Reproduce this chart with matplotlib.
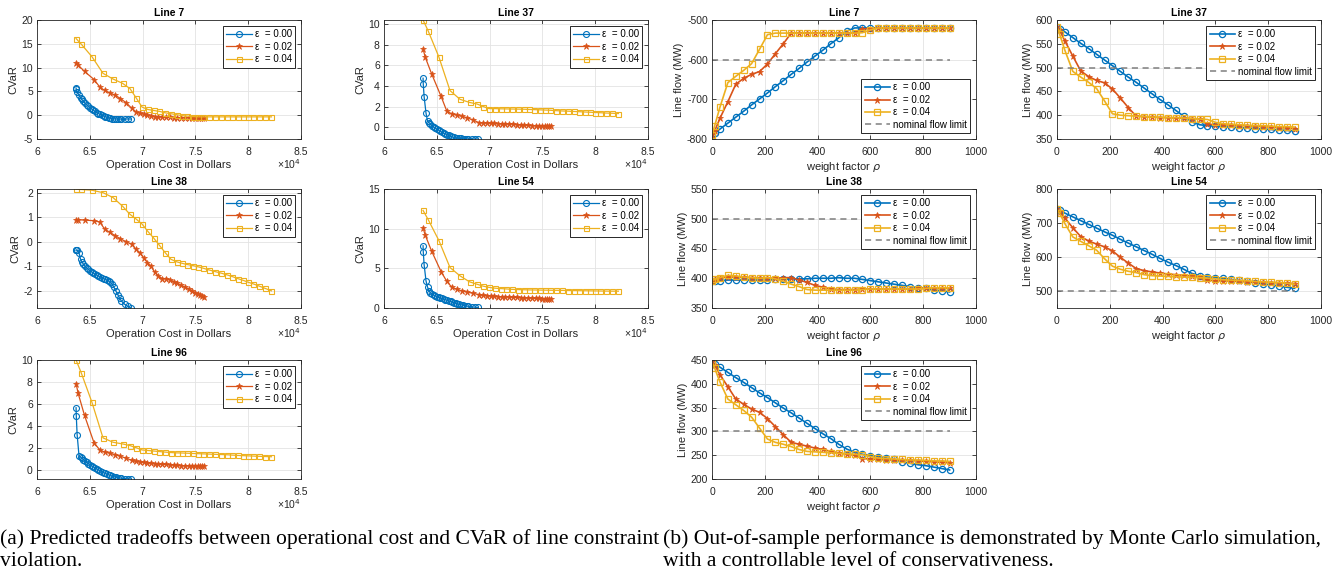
import matplotlib
matplotlib.use('Agg')
import matplotlib.pyplot as plt

plt.rcParams['font.family'] = ['Liberation Sans', 'DejaVu Sans']
plt.rcParams['mathtext.fontset'] = 'dejavusans'
plt.rcParams['axes.unicode_minus'] = False

# operation cost (x 10^4 dollars) for each epsilon, one point per weight factor
cost_e0 = [6.370, 6.372, 6.380, 6.398, 6.412, 6.425, 6.440, 6.455, 6.470, 6.486, 6.502, 6.518, 6.534, 6.550, 6.566, 6.582,
           6.598, 6.614, 6.630, 6.646, 6.662, 6.678, 6.694, 6.710, 6.728, 6.746, 6.764, 6.782, 6.800, 6.830, 6.860, 6.890]
cost_e2 = [6.370, 6.390, 6.450, 6.540, 6.595, 6.640, 6.690, 6.740, 6.790, 6.845, 6.895, 6.935, 6.975, 7.010, 7.045, 7.080,
           7.115, 7.150, 7.185, 7.220, 7.260, 7.295, 7.330, 7.365, 7.400, 7.435, 7.465, 7.495, 7.520, 7.545, 7.565, 7.580]
cost_e4 = [6.370, 6.420, 6.520, 6.625, 6.720, 6.810, 6.880, 6.940, 6.995, 7.050, 7.105, 7.160, 7.215, 7.270, 7.325, 7.375,
           7.425, 7.475, 7.525, 7.575, 7.630, 7.690, 7.745, 7.800, 7.850, 7.900, 7.950, 8.000, 8.050, 8.100, 8.160, 8.220]

# CVaR per line, for eps = 0.00, 0.02, 0.04
cvar_7 = [
    [5.7, 5.4, 4.9, 4.2, 3.7, 3.3, 2.9, 2.5, 2.2, 1.9, 1.6, 1.3, 1.05, 0.8, 0.55, 0.35, 0.15, 0.0, -0.15, -0.3, -0.4, -0.5,
     -0.6, -0.7, -0.75, -0.8, -0.8, -0.8, -0.8, -0.8, -0.8, -0.8],
    [11.0, 10.5, 9.2, 7.5, 5.9, 5.2, 4.7, 4.2, 3.5, 2.6, 1.5, 0.7, 0.4, 0.2, 0.0, -0.2, -0.3, -0.35, -0.4, -0.45, -0.45,
     -0.5, -0.5, -0.5, -0.5, -0.5, -0.5, -0.5, -0.5, -0.5, -0.5, -0.5],
    [16.1, 14.9, 12.3, 8.8, 7.6, 6.7, 5.6, 3.6, 1.7, 1.2, 1.0, 0.8, 0.5, 0.3, 0.1, -0.1, -0.2, -0.3, -0.35, -0.35, -0.35,
     -0.35, -0.35, -0.35, -0.35, -0.35, -0.35, -0.35, -0.35, -0.35, -0.35, -0.35],
]
cvar_37 = [
    [4.75, 4.15, 2.95, 1.35, 0.6, 0.45, 0.3, 0.15, 0.0, -0.1, -0.2, -0.3, -0.4, -0.5, -0.6, -0.65, -0.75, -0.8, -0.88,
     -0.95, -1.0, -1.03, -1.06, -1.08, -1.1, -1.12, -1.13, -1.14, -1.15, -1.15, -1.15, -1.15],
    [7.6, 6.8, 5.2, 3.0, 1.55, 1.3, 1.15, 1.05, 0.9, 0.7, 0.45, 0.4, 0.4, 0.38, 0.36, 0.35, 0.33, 0.32, 0.3, 0.3, 0.25,
     0.22, 0.2, 0.18, 0.16, 0.15, 0.13, 0.12, 0.11, 0.1, 0.1, 0.1],
    [10.4, 9.3, 6.8, 3.55, 2.7, 2.4, 2.25, 2.0, 1.8, 1.8, 1.78, 1.77, 1.76, 1.75, 1.74, 1.72, 1.7, 1.68, 1.66, 1.64, 1.6,
     1.57, 1.55, 1.52, 1.5, 1.47, 1.45, 1.42, 1.4, 1.37, 1.35, 1.32],
]
cvar_38 = [
    [-0.35, -0.33, -0.33, -0.45, -0.7, -0.82, -0.92, -1.0, -1.07, -1.12, -1.18, -1.23, -1.28, -1.32, -1.36, -1.4, -1.43,
     -1.47, -1.5, -1.53, -1.56, -1.6, -1.65, -1.72, -1.85, -2.0, -2.15, -2.3, -2.42, -2.55, -2.63, -2.7],
    [0.9, 0.9, 0.88, 0.86, 0.8, 0.52, 0.38, 0.25, 0.12, 0.0, -0.1, -0.3, -0.45, -0.65, -0.85, -1.0, -1.25, -1.4, -1.5,
     -1.5, -1.55, -1.62, -1.7, -1.78, -1.85, -1.92, -2.0, -2.07, -2.12, -2.18, -2.22, -2.27],
    [2.15, 2.13, 2.1, 2.0, 1.8, 1.45, 1.12, 0.92, 0.72, 0.42, 0.15, -0.15, -0.45, -0.72, -0.82, -0.88, -0.93, -0.97,
     -1.02, -1.08, -1.15, -1.22, -1.28, -1.35, -1.42, -1.5, -1.57, -1.65, -1.72, -1.8, -1.9, -2.0],
]
cvar_54 = [
    [7.85, 7.05, 5.45, 3.4, 2.65, 2.2, 1.9, 1.75, 1.62, 1.52, 1.43, 1.35, 1.27, 1.2, 1.12, 1.05, 0.98, 0.9, 0.83, 0.76,
     0.69, 0.62, 0.55, 0.48, 0.42, 0.36, 0.3, 0.25, 0.2, 0.15, 0.1, 0.07],
    [10.1, 9.2, 7.2, 4.6, 3.35, 2.65, 2.35, 2.15, 2.0, 1.85, 1.7, 1.6, 1.55, 1.5, 1.47, 1.44, 1.42, 1.4, 1.38, 1.36, 1.33,
     1.3, 1.28, 1.26, 1.24, 1.22, 1.2, 1.19, 1.18, 1.17, 1.16, 1.15],
    [12.3, 11.1, 8.5, 5.1, 4.05, 3.3, 3.0, 2.75, 2.6, 2.5, 2.45, 2.4, 2.35, 2.32, 2.3, 2.28, 2.27, 2.26, 2.25, 2.24, 2.23,
     2.22, 2.2, 2.19, 2.18, 2.17, 2.16, 2.15, 2.14, 2.13, 2.12, 2.12],
]
cvar_96 = [
    [5.65, 4.9, 3.2, 1.25, 1.15, 1.05, 0.92, 0.8, 0.68, 0.56, 0.45, 0.35, 0.25, 0.16, 0.07, -0.02, -0.1, -0.18, -0.26,
     -0.33, -0.4, -0.46, -0.52, -0.58, -0.63, -0.68, -0.72, -0.75, -0.78, -0.81, -0.83, -0.85],
    [7.85, 6.95, 4.95, 2.45, 1.8, 1.6, 1.5, 1.38, 1.22, 1.05, 0.85, 0.75, 0.7, 0.66, 0.62, 0.58, 0.54, 0.5, 0.5, 0.48,
     0.44, 0.42, 0.4, 0.38, 0.36, 0.35, 0.34, 0.33, 0.32, 0.31, 0.3, 0.3],
    [10.0, 8.8, 6.15, 2.9, 2.5, 2.35, 2.2, 2.0, 1.8, 1.75, 1.7, 1.65, 1.6, 1.56, 1.53, 1.52, 1.5, 1.48, 1.46, 1.44, 1.42,
     1.4, 1.38, 1.36, 1.33, 1.3, 1.28, 1.26, 1.24, 1.22, 1.2, 1.18],
]

# weight factor rho and Monte Carlo line flows (MW)
rho = [0, 10, 30, 60, 90, 120, 150, 180, 210, 240, 270, 300, 330, 360, 390, 420, 450, 480, 510, 540, 570, 600, 630, 660,
       690, 720, 750, 780, 810, 840, 870, 900]

flow_7 = [
    [-790, -785, -775, -760, -745, -730, -714, -699, -684, -668, -653, -637, -622, -606, -591, -576, -560, -545, -528,
     -520, -520, -520, -520, -520, -520, -520, -520, -520, -520, -520, -520, -520],
    [-790, -780, -748, -706, -662, -647, -637, -630, -611, -585, -560, -533, -533, -533, -533, -533, -533, -533, -533,
     -533, -522, -522, -520, -520, -520, -520, -520, -520, -520, -520, -520, -520],
    [-790, -767, -720, -658, -642, -627, -610, -574, -537, -533, -533, -533, -533, -533, -533, -533, -533, -533, -533,
     -533, -532, -525, -520, -520, -520, -520, -520, -520, -520, -520, -520, -520],
]
flow_37 = [
    [585, 582, 575, 563, 551, 540, 528, 516, 504, 492, 480, 469, 457, 445, 433, 422, 410, 398, 386, 380, 378, 377, 376,
     375, 374, 373, 372, 371, 370, 369, 368, 367],
    [585, 578, 556, 524, 493, 481, 473, 468, 455, 436, 416, 398, 397, 396, 395, 395, 394, 394, 393, 392, 381, 380, 380,
     379, 378, 378, 377, 376, 375, 374, 373, 372],
    [585, 570, 536, 492, 480, 469, 456, 430, 403, 400, 399, 398, 397, 396, 396, 395, 395, 394, 393, 392, 391, 385, 382,
     381, 380, 379, 378, 378, 377, 376, 376, 375],
]
flow_38 = [
    [395, 396, 396, 397, 397, 397, 397, 397, 397, 398, 398, 399, 399, 399, 400, 400, 400, 401, 400, 400, 398, 396, 394,
     392, 390, 388, 386, 384, 383, 380, 379, 377],
    [396, 398, 401, 402, 402, 402, 401, 401, 400, 400, 401, 401, 397, 393, 388, 385, 382, 381, 381, 381, 382, 382, 382,
     382, 382, 382, 382, 383, 383, 383, 383, 383],
    [396, 398, 401, 405, 404, 402, 401, 400, 401, 399, 395, 390, 386, 381, 380, 380, 380, 380, 380, 380, 381, 382, 382,
     382, 382, 382, 382, 382, 383, 384, 384, 384],
]
flow_54 = [
    [740, 737, 729, 718, 707, 696, 685, 674, 664, 652, 641, 630, 619, 608, 596, 585, 575, 564, 552, 545, 541, 539, 537,
     534, 531, 528, 525, 521, 518, 515, 511, 508],
    [740, 732, 714, 686, 660, 647, 638, 630, 618, 599, 582, 566, 560, 556, 553, 550, 548, 546, 544, 542, 532, 530, 530,
     529, 528, 527, 526, 526, 525, 524, 523, 522],
    [740, 728, 698, 659, 646, 633, 620, 595, 573, 564, 558, 554, 548, 545, 544, 543, 542, 541, 540, 539, 538, 536, 533,
     532, 531, 530, 528, 527, 526, 525, 523, 520],
]
flow_96 = [
    [445, 442, 435, 424, 413, 403, 392, 381, 371, 360, 349, 339, 328, 317, 306, 295, 285, 273, 263, 256, 252, 249, 247,
     244, 241, 236, 233, 230, 228, 225, 222, 219],
    [445, 440, 419, 394, 368, 357, 347, 340, 327, 310, 293, 277, 273, 269, 265, 262, 258, 255, 252, 250, 243, 242, 241,
     240, 240, 239, 239, 238, 237, 236, 235, 234],
    [445, 433, 404, 368, 356, 344, 330, 307, 284, 277, 273, 268, 262, 258, 257, 256, 255, 254, 253, 252, 251, 247, 244,
     243, 242, 241, 240, 240, 239, 238, 238, 237],
]
flow_limit = {7: -600, 37: 500, 38: 500, 54: 500, 96: 300}

eps_labels = ['\u03b5  = 0.00', '\u03b5  = 0.02', '\u03b5  = 0.04']
colors = ['#0072BD', '#D95319', '#EDB120']
markers = ['o', '*', 's']

W, H = 1344, 576
fig = plt.figure(figsize=(W / 100, H / 100), dpi=100)


def make_ax(left, top, w=264, h=119):
    return fig.add_axes([left / W, 1 - (top + h) / H, w / W, h / H])


def style(ax, title):
    ax.set_title(title, fontsize=7.5, fontweight='bold', pad=3)
    ax.grid(True, color='#e3e3e3', lw=0.6)
    ax.set_axisbelow(True)
    ax.tick_params(direction='in', top=True, right=True, labelsize=7.5, colors='#262626', length=3, width=0.6)
    ax.tick_params(axis='x', pad=6)
    ax.tick_params(axis='y', pad=3)
    for s in ax.spines.values():
        s.set_color('#262626')
        s.set_linewidth(0.6)


def legend(ax, loc):
    lg = ax.legend(loc=loc, fontsize=7, frameon=True, fancybox=False, edgecolor='#262626', framealpha=1,
                   handlelength=2.6, handletextpad=0.3, borderpad=0.35, labelspacing=0.25, borderaxespad=0.6)
    lg.get_frame().set_linewidth(0.7)


cost = [cost_e0, cost_e2, cost_e4]
left_panels = [('Line 7', cvar_7, 37, 20, (-5, 20), [-5, 0, 5, 10, 15, 20]),
               ('Line 37', cvar_37, 384, 20, (-1.15, 10.4), [0, 2, 4, 6, 8, 10]),
               ('Line 38', cvar_38, 37, 189, (-2.7, 2.15), [-2, -1, 0, 1, 2]),
               ('Line 54', cvar_54, 384, 189, (0, 15), [0, 5, 10, 15]),
               ('Line 96', cvar_96, 37, 360, (-0.85, 10), [0, 2, 4, 6, 8, 10])]

for title, cv, lx, ty, ylim, yt in left_panels:
    ax = make_ax(lx, ty)
    for k in range(3):
        if markers[k] == 'o':
            ax.plot(cost[k], cv[k], color=colors[k], lw=0.9, marker='o', ms=4.3, mfc='none', mew=0.8, label=eps_labels[k])
        elif markers[k] == '*':
            ax.plot(cost[k], cv[k], color=colors[k], lw=0.9, marker='*', ms=4.5, mew=0.5, label=eps_labels[k])
        else:
            ax.plot(cost[k], cv[k], color=colors[k], lw=0.9, marker='s', ms=3.6, mfc='none', mew=0.8, label=eps_labels[k])
    ax.set_xlim(6, 8.5)
    ax.set_xticks([6, 6.5, 7, 7.5, 8, 8.5])
    ax.set_xticklabels(['6', '6.5', '7', '7.5', '8', '8.5'])
    ax.set_ylim(*ylim)
    ax.set_yticks(yt)
    ax.set_xlabel('Operation Cost in Dollars', fontsize=8, color='#262626', labelpad=2)
    ax.set_ylabel('CVaR', fontsize=8, color='#262626', labelpad=2)
    ax.text(1.0, -0.21, '\u00d710$^4$', transform=ax.transAxes, fontsize=7.5, color='#262626', ha='right', va='center')
    style(ax, title)
    legend(ax, 'upper right')

right_panels = [('Line 7', flow_7, 712, 20, (-800, -500), [-800, -700, -600, -500], 7, 'lower right'),
                ('Line 37', flow_37, 1057, 20, (350, 600), [350, 400, 450, 500, 550, 600], 37, 'upper right'),
                ('Line 38', flow_38, 712, 189, (350, 550), [350, 400, 450, 500, 550], 38, 'upper right'),
                ('Line 54', flow_54, 1057, 189, (450, 800), [500, 600, 700, 800], 54, 'upper right'),
                ('Line 96', flow_96, 712, 360, (200, 450), [200, 250, 300, 350, 400, 450], 96, 'upper right')]

for title, fl, lx, ty, ylim, yt, line_id, loc in right_panels:
    ax = make_ax(lx, ty)
    for k in range(3):
        if markers[k] == 'o':
            ax.plot(rho, fl[k], color=colors[k], lw=1.2, marker='o', ms=4.5, mfc='none', mew=0.9, label=eps_labels[k])
        elif markers[k] == '*':
            ax.plot(rho, fl[k], color=colors[k], lw=1.2, marker='*', ms=4.5, mew=0.5, label=eps_labels[k])
        else:
            ax.plot(rho, fl[k], color=colors[k], lw=1.2, marker='s', ms=4.2, mfc='none', mew=0.9, label=eps_labels[k])
    ax.plot([rho[0], rho[-1]], [flow_limit[line_id]] * 2, color='#7f7f7f', lw=1.1, ls=(0, (4, 3)), label='nominal flow limit')
    ax.set_xlim(0, 1000)
    ax.set_xticks([0, 200, 400, 600, 800, 1000])
    ax.set_ylim(*ylim)
    ax.set_yticks(yt)
    ax.set_xlabel(r'weight factor $\rho$', fontsize=8, color='#262626', labelpad=2)
    ax.set_ylabel('Line flow (MW)', fontsize=8, color='#262626', labelpad=2)
    style(ax, title)
    legend(ax, loc)

cap = dict(fontsize=15.6, family=['Liberation Serif', 'DejaVu Serif'], color='black', va='center', ha='left')
fig.text(0, 1 - 539 / H, '(a) Predicted tradeoffs between operational cost and CVaR of line constraint', **cap)
fig.text(0, 1 - 561 / H, 'violation.', **cap)
fig.text(663 / W, 1 - 539 / H, '(b) Out-of-sample performance is demonstrated by Monte Carlo simulation,', **cap)
fig.text(663 / W, 1 - 561 / H, 'with a controllable level of conservativeness.', **cap)

fig.savefig('out.png', dpi=100)
